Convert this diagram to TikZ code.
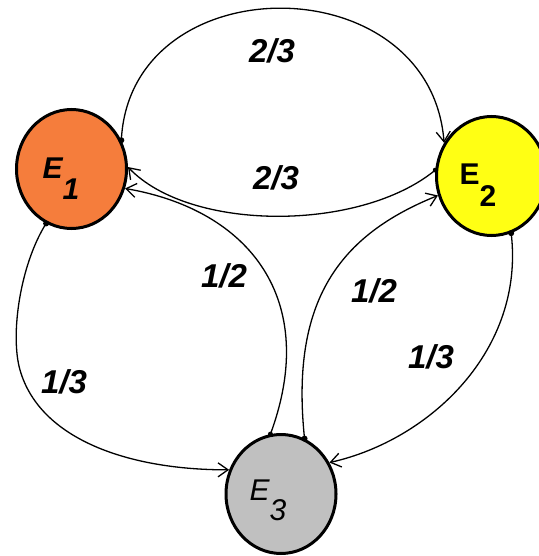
\documentclass[tikz,border=0pt]{standalone}
\usepackage{fontspec}
\newfontfamily\labfont{Liberation Sans}
\usetikzlibrary{arrows.meta,shapes.geometric}
\definecolor{eone}{RGB}{245,125,60}
\definecolor{etwo}{RGB}{255,255,20}
\definecolor{ethree}{RGB}{192,192,192}
\begin{document}
\begin{tikzpicture}[x=1pt,y=-1pt,
  state/.style={ellipse, draw=black, line width=3pt, minimum width=110pt, minimum height=119pt, inner sep=0pt},
  elabel/.style={font=\labfont\fontsize{30}{30}\selectfont, inner sep=0pt},
  plabel/.style={font=\labfont\bfseries\itshape\fontsize{33}{33}\selectfont, inner sep=0pt},
  conn/.style={line width=1.3pt, -{Straight Barb[length=10pt,width=14pt]}},
  startdot/.style={fill=black},
]
\useasboundingbox (0,0) rectangle (538,556);
\fill[white] (0,0) rectangle (538,556);

\node[state, fill=eone] (E1) at (71.5,169) {};
\node[state, fill=etwo] (E2) at (491.5,176) {};
\node[state, fill=ethree] (E3) at (281,494) {};

\node[elabel] (l1) at (61,179) {\bfseries\itshape E\raisebox{-21pt}{1}};
\node[elabel] (l2) at (478,185) {\bfseries E\raisebox{-22pt}{2}};
\node[elabel] (l3) at (268,500) {\itshape E\raisebox{-20pt}{3}};

% E1 -> E2 (top)
\draw[conn] (E1.30) .. controls (130,-36) and (430,-36) .. (E2.145);
% E2 -> E1 (lower)
\draw[conn] (E2.174) .. controls (360,232) and (190,232) .. (E1.2);
% E3 -> E1
\draw[conn] (E3.100) .. controls (320,300) and (250,210) .. (E1.-20);
% E3 -> E2
\draw[conn] (E3.67) .. controls (290,300) and (340,235) .. (E2.200);
% E2 -> E3
\draw[conn] (E2.-71) .. controls (525,350) and (430,440) .. (E3.33);
% E1 -> E3
\draw[conn] (E1.-115) .. controls (20,265) and (10,335) .. (20,370)
            .. controls (40,440) and (130,470) .. (E3.155);

\fill[startdot] (E1.30) circle (3pt);
\fill[startdot] (E1.-115) circle (3pt);
\fill[startdot] (E2.174) circle (2.5pt);
\fill[startdot] (E2.-71) circle (3pt);
\fill[startdot] (E3.100) circle (2.5pt);
\fill[startdot] (E3.67) circle (3pt);

\node[plabel] (p1) at (272,51) {2/3};
\node[plabel] (p2) at (276,178) {2/3};
\node[plabel] (p3) at (224,276) {1/2};
\node[plabel] (p4) at (64,382) {1/3};
\node[plabel] (p5) at (374,291) {1/2};
\node[plabel] (p6) at (431,357) {1/3};
\end{tikzpicture}
\end{document}
